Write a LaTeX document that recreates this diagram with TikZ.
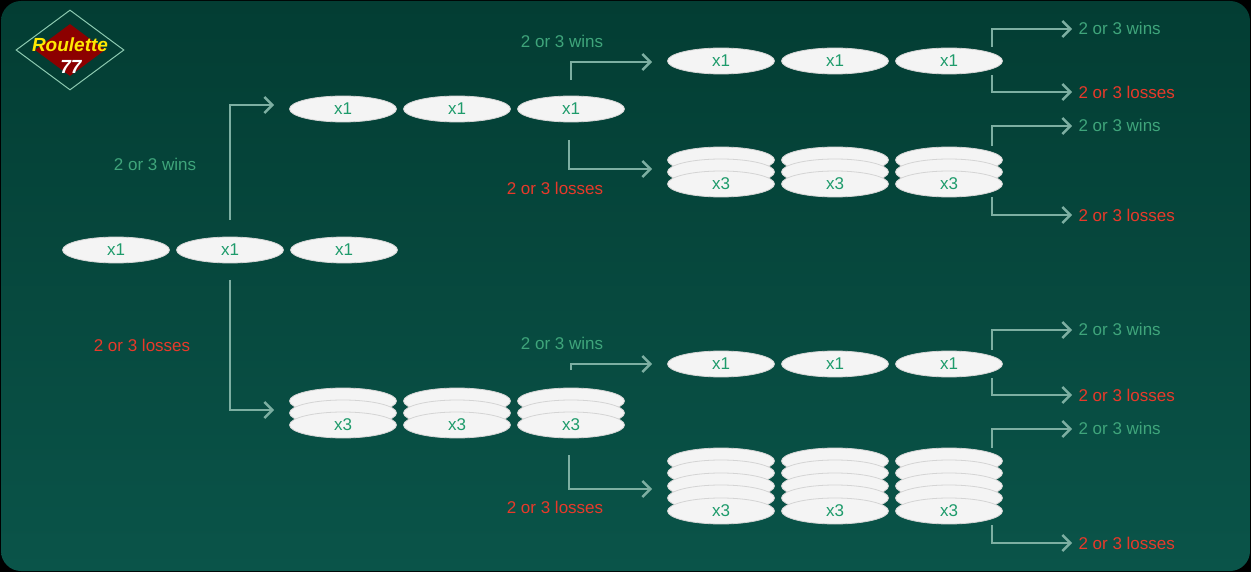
\documentclass[tikz,border=0pt]{standalone}
\usepackage{fontspec}
\setmainfont{Liberation Sans}
\usetikzlibrary{shapes.geometric,arrows.meta}
\definecolor{bgtop}{HTML}{033D33}
\definecolor{bgbot}{HTML}{0A5449}
\definecolor{arr}{HTML}{7DAFA2}
\definecolor{wgreen}{HTML}{3FA57B}
\definecolor{lred}{HTML}{E8392A}
\definecolor{cgreen}{HTML}{1E9B6B}
\definecolor{chipf}{HTML}{F4F4F4}
\definecolor{chipd}{HTML}{D4D4D4}
\tikzset{
 chip/.style={ellipse,minimum width=107pt,minimum height=26pt,inner sep=0,fill=chipf,draw=chipd,line width=0.8pt,text=cgreen,font=\fontsize{17}{20}\selectfont},
 flow/.style={draw=arr,line width=2.4pt,-{Straight Barb[length=8pt,width=16pt,line width=2.4pt]}},
 win/.style={text=wgreen,font=\fontsize{17}{20}\selectfont},
 loss/.style={text=lred,font=\fontsize{17}{20}\selectfont}
}
\begin{document}
\begin{tikzpicture}[x=1pt,y=-1pt]
\useasboundingbox (0,0) rectangle (1251,572);
\fill[black] (0,0) rectangle (1251,572);
\shade[top color=bgtop,bottom color=bgbot,rounded corners=20pt] (1,1) rectangle (1250,571);
% logo
\node[diamond,draw=wgreen!60!white,line width=1pt,fill=bgtop,minimum width=108pt,minimum height=80pt,inner sep=0] (logo) at (70,50) {};
\node[diamond,fill=red!55!black,minimum width=70pt,minimum height=52pt,inner sep=0] (logoin) at (70,50) {};
\node[text=yellow!90!orange,font=\fontsize{19}{20}\selectfont\bfseries\itshape] (logot) at (70,45) {Roulette};
\node[text=white,font=\fontsize{19}{20}\selectfont\bfseries\itshape] (logon) at (71,67) {77};
% root
\foreach \x/\n in {116/a,230/b,344/c}{\node[chip] (r\n) at (\x,250) {x1};}
% top mid
\foreach \x/\n in {343/a,457/b,571/c}{\node[chip] (t\n) at (\x,109) {x1};}
% bottom mid stack 3
\foreach \x/\n in {343/a,457/b,571/c}{
 \node[chip] (bs1\n) at (\x,401) {};
 \node[chip] (bs2\n) at (\x,413) {};
 \node[chip] (b\n) at (\x,425) {x3};}
% right col
\foreach \x/\n in {721/a,835/b,949/c}{
 \node[chip] (p\n) at (\x,61) {x1};
 \node[chip] (qs1\n) at (\x,160) {};
 \node[chip] (qs2\n) at (\x,172) {};
 \node[chip] (q\n) at (\x,184) {x3};
 \node[chip] (u\n) at (\x,364) {x1};
 \node[chip] (vs1\n) at (\x,461) {};
 \node[chip] (vs2\n) at (\x,473) {};
 \node[chip] (vs3\n) at (\x,486) {};
 \node[chip] (vs4\n) at (\x,498) {};
 \node[chip] (v\n) at (\x,511) {x3};}
% root arrows
\coordinate (c1) at (230,220); \coordinate (c1e) at (274,105);
\draw[flow] (c1) |- (c1e);
\coordinate (c2) at (230,280); \coordinate (c2e) at (274,410);
\draw[flow] (c2) |- (c2e);
\node[win] (l1) at (155,164) {2 or 3 wins};
\node[loss] (l2) at (142,345) {2 or 3 losses};
% mid arrows
\coordinate (d1) at (571,80); \coordinate (d1e) at (652,62);
\draw[flow] (d1) |- (d1e);
\coordinate (d2) at (569,140); \coordinate (d2e) at (652,169);
\draw[flow] (d2) |- (d2e);
\node[win] (l3) at (562,41) {2 or 3 wins};
\node[loss] (l4) at (555,188) {2 or 3 losses};
\coordinate (d3) at (571,370); \coordinate (d3e) at (652,364);
\draw[flow] (d3) |- (d3e);
\coordinate (d4) at (569,455); \coordinate (d4e) at (652,489);
\draw[flow] (d4) |- (d4e);
\node[win] (l5) at (562,343) {2 or 3 wins};
\node[loss] (l6) at (555,507) {2 or 3 losses};
% right arrows
\foreach \ys/\yw/\yl/\ye/\n in {47/29/75/92/1,146/126/197/215/2,350/330/378/395/3,448/429/525/543/4}{
 \coordinate (e\n a) at (992,\ys); \coordinate (e\n b) at (1072,\yw);
 \draw[flow] (e\n a) |- (e\n b);
 \coordinate (f\n a) at (992,\yl); \coordinate (f\n b) at (1072,\ye);
 \draw[flow] (f\n a) |- (f\n b);
 \node[win,anchor=west] (w\n) at (1075,\yw-1) {2 or 3 wins};
 \node[loss,anchor=west] (o\n) at (1075,\ye) {2 or 3 losses};
}
\end{tikzpicture}
\end{document}
